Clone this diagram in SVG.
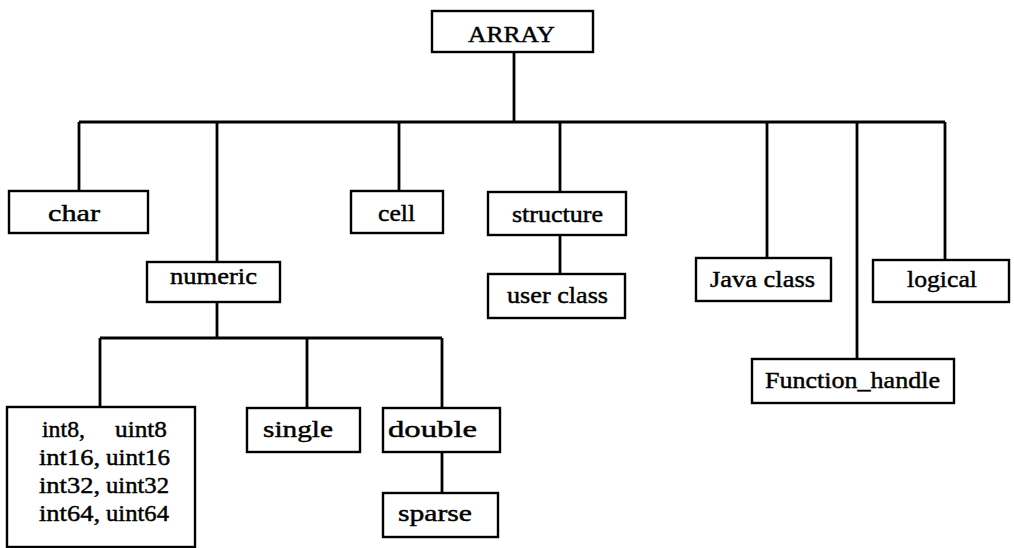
<svg xmlns="http://www.w3.org/2000/svg" width="1014" height="548" viewBox="0 0 1014 548">
<style>
.box{fill:#fff;stroke:#000;stroke-width:2.4}
.lbl{font-family:"Liberation Serif","Times New Roman",serif;font-size:24px;fill:#000;stroke:#000;stroke-width:0.45}
.c{stroke:#000;stroke-width:2.8;fill:none}
</style>
<rect width="1014" height="548" fill="#fff"/>
<g id="connectors">
<path class="c" d="M514 52V122M79 122H945M79 122V191M217 122V262M399 122V191M560 122V192M767 122V258M857 122V359M945 122V260"/>
<path class="c" d="M560 235V274"/>
<path class="c" d="M217 302V338M100 338H442M100 338V407M307 338V408M442 338V408"/>
<path class="c" d="M442 452V493"/>
</g>
<g id="n-array"><rect class="box" x="432" y="11" width="161" height="41"/><text class="lbl" x="468" y="42" textLength="87" lengthAdjust="spacingAndGlyphs">ARRAY</text></g>
<g id="n-char"><rect class="box" x="9" y="191" width="139" height="42"/><text class="lbl" x="48" y="221" textLength="52" lengthAdjust="spacingAndGlyphs">char</text></g>
<g id="n-numeric"><rect class="box" x="147" y="262" width="133" height="40"/><text class="lbl" x="170" y="284" textLength="87" lengthAdjust="spacingAndGlyphs">numeric</text></g>
<g id="n-cell"><rect class="box" x="351" y="191" width="92" height="42"/><text class="lbl" x="378" y="221" textLength="37" lengthAdjust="spacingAndGlyphs">cell</text></g>
<g id="n-structure"><rect class="box" x="488" y="192" width="138" height="43"/><text class="lbl" x="512" y="222" textLength="91" lengthAdjust="spacingAndGlyphs">structure</text></g>
<g id="n-userclass"><rect class="box" x="488" y="274" width="137" height="44"/><text class="lbl" x="507" y="303" textLength="101" lengthAdjust="spacingAndGlyphs">user class</text></g>
<g id="n-java"><rect class="box" x="696" y="258" width="135" height="43"/><text class="lbl" x="710" y="287" textLength="105" lengthAdjust="spacingAndGlyphs">Java class</text></g>
<g id="n-logical"><rect class="box" x="873" y="260" width="136" height="42"/><text class="lbl" x="907" y="287" textLength="70" lengthAdjust="spacingAndGlyphs">logical</text></g>
<g id="n-fhandle"><rect class="box" x="752" y="359" width="202" height="44"/><text class="lbl" x="765" y="388" textLength="175" lengthAdjust="spacingAndGlyphs">Function_handle</text></g>
<g id="n-ints"><rect class="box" x="7" y="407" width="188" height="140"/>
<text class="lbl" y="437"><tspan x="42" textLength="43" lengthAdjust="spacingAndGlyphs">int8,</tspan><tspan x="115" textLength="52" lengthAdjust="spacingAndGlyphs">uint8</tspan></text>
<text class="lbl" y="465"><tspan x="39" textLength="61" lengthAdjust="spacingAndGlyphs">int16,</tspan><tspan x="106" textLength="64" lengthAdjust="spacingAndGlyphs">uint16</tspan></text>
<text class="lbl" y="493"><tspan x="39" textLength="61" lengthAdjust="spacingAndGlyphs">int32,</tspan><tspan x="106" textLength="63" lengthAdjust="spacingAndGlyphs">uint32</tspan></text>
<text class="lbl" y="521"><tspan x="39" textLength="61" lengthAdjust="spacingAndGlyphs">int64,</tspan><tspan x="106" textLength="63" lengthAdjust="spacingAndGlyphs">uint64</tspan></text>
</g>
<g id="n-single"><rect class="box" x="247" y="408" width="113" height="44"/><text class="lbl" x="263" y="437" textLength="70" lengthAdjust="spacingAndGlyphs">single</text></g>
<g id="n-double"><rect class="box" x="383" y="408" width="117" height="44"/><text class="lbl" x="388" y="437" textLength="89" lengthAdjust="spacingAndGlyphs">double</text></g>
<g id="n-sparse"><rect class="box" x="383" y="493" width="115" height="44"/><text class="lbl" x="398" y="521" textLength="74" lengthAdjust="spacingAndGlyphs">sparse</text></g>
</svg>
